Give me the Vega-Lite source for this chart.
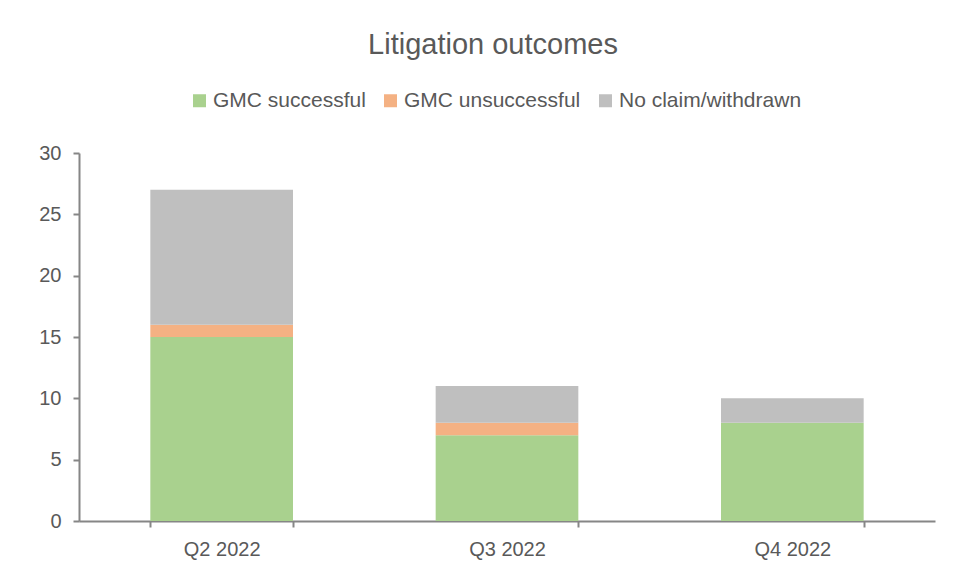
{
  "$schema": "https://vega.github.io/schema/vega-lite/v6.json",
  "autosize": "none",
  "width": 856,
  "height": 368,
  "padding": {"left": 79, "top": 153, "right": 28, "bottom": 50},
  "background": "white",
  "title": {
    "text": "Litigation outcomes",
    "anchor": "middle",
    "frame": "group",
    "fontSize": 29,
    "font": "Liberation Sans",
    "fontWeight": "normal",
    "color": "#595959",
    "baseline": "alphabetic",
    "offset": 7,
    "dx": -14
  },
  "data": {
    "values": [
      {"quarter": "Q2 2022", "outcome": "GMC successful", "count": 15},
      {"quarter": "Q2 2022", "outcome": "GMC unsuccessful", "count": 1},
      {"quarter": "Q2 2022", "outcome": "No claim/withdrawn", "count": 11},
      {"quarter": "Q3 2022", "outcome": "GMC successful", "count": 7},
      {"quarter": "Q3 2022", "outcome": "GMC unsuccessful", "count": 1},
      {"quarter": "Q3 2022", "outcome": "No claim/withdrawn", "count": 3},
      {"quarter": "Q4 2022", "outcome": "GMC successful", "count": 8},
      {"quarter": "Q4 2022", "outcome": "GMC unsuccessful", "count": 0},
      {"quarter": "Q4 2022", "outcome": "No claim/withdrawn", "count": 2}
    ]
  },
  "mark": {"type": "bar"},
  "encoding": {
    "x": {
      "field": "quarter",
      "type": "nominal",
      "sort": null,
      "scale": {"paddingInner": 0.5, "paddingOuter": 0.25},
      "axis": {
        "title": null,
        "labelAngle": 0,
        "tickBand": "extent",
        "labelFontSize": 20,
        "labelFont": "Liberation Sans",
        "labelColor": "#595959",
        "labelPadding": 12,
        "domainColor": "#868686",
        "domainWidth": 2,
        "tickColor": "#868686",
        "tickWidth": 2,
        "tickSize": 6
      }
    },
    "y": {
      "field": "count",
      "type": "quantitative",
      "stack": "zero",
      "scale": {"domain": [0, 30], "nice": false},
      "axis": {
        "title": null,
        "values": [0, 5, 10, 15, 20, 25, 30],
        "grid": false,
        "labelFontSize": 20,
        "labelFont": "Liberation Sans",
        "labelColor": "#595959",
        "labelPadding": 12,
        "domainColor": "#868686",
        "domainWidth": 2,
        "tickColor": "#868686",
        "tickWidth": 2,
        "tickSize": 6
      }
    },
    "order": {"field": "outcome", "sort": "ascending"},
    "color": {
      "field": "outcome",
      "type": "nominal",
      "scale": {
        "domain": ["GMC successful", "GMC unsuccessful", "No claim/withdrawn"],
        "range": ["#A9D18E", "#F4B183", "#BFBFBF"]
      },
      "legend": {
        "title": null,
        "orient": "none",
        "direction": "horizontal",
        "legendX": 110,
        "legendY": -63,
        "symbolType": "square",
        "symbolSize": 169,
        "symbolStrokeWidth": 0,
        "labelFontSize": 21,
        "labelFont": "Liberation Sans",
        "labelColor": "#595959",
        "labelOffset": 3,
        "labelLimit": 0,
        "columnPadding": 14,
        "padding": 0
      }
    }
  },
  "config": {
    "view": {"stroke": null}
  }
}
